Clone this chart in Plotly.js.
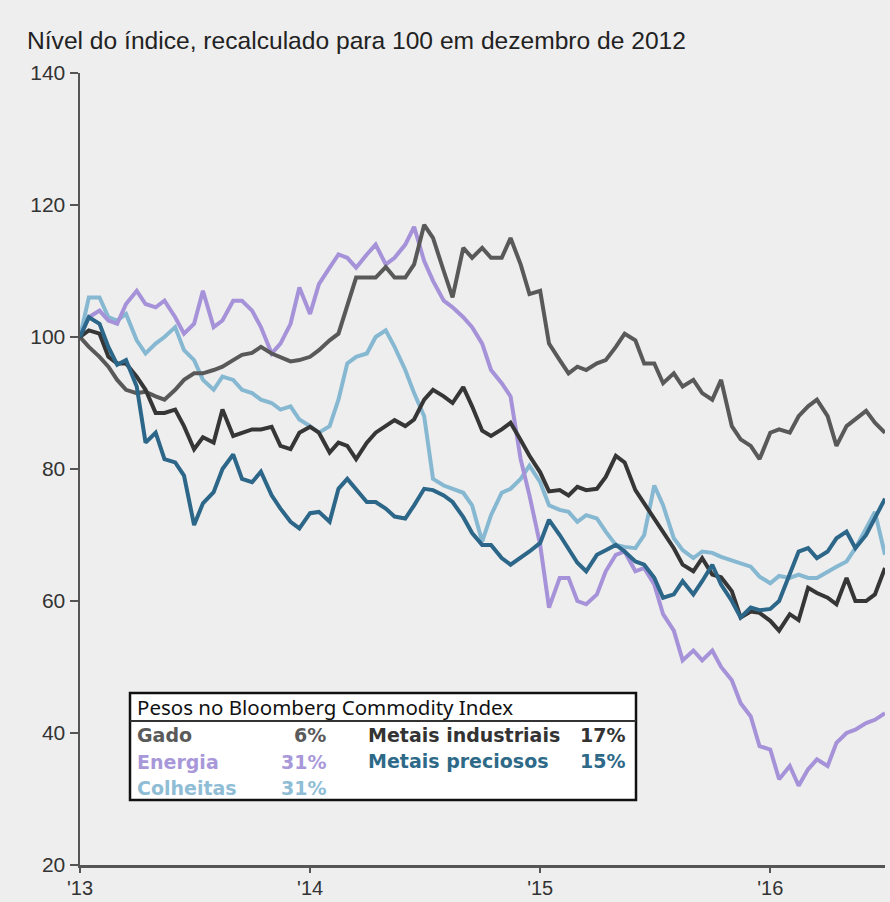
<!DOCTYPE html>
<html>
<head>
<meta charset="utf-8">
<script src="https://cdn.plot.ly/plotly-3.0.1.min.js"></script>
<style>html,body{margin:0;padding:0;background:#eeeeee;}#chart{width:890px;height:902px;}</style>
</head>
<body>
<div id="chart"></div>
<script>
// Half-monthly observation dates
const dates = [
'2013-01-01','2013-01-15','2013-02-01','2013-02-15','2013-03-01','2013-03-15','2013-04-01','2013-04-15','2013-05-01','2013-05-15','2013-06-01','2013-06-15',
'2013-07-01','2013-07-15','2013-08-01','2013-08-15','2013-09-01','2013-09-15','2013-10-01','2013-10-15','2013-11-01','2013-11-15','2013-12-01','2013-12-15',
'2014-01-01','2014-01-15','2014-02-01','2014-02-15','2014-03-01','2014-03-15','2014-04-01','2014-04-15','2014-05-01','2014-05-15','2014-06-01','2014-06-15',
'2014-07-01','2014-07-15','2014-08-01','2014-08-15','2014-09-01','2014-09-15','2014-10-01','2014-10-15','2014-11-01','2014-11-15','2014-12-01','2014-12-15',
'2015-01-01','2015-01-15','2015-02-01','2015-02-15','2015-03-01','2015-03-15','2015-04-01','2015-04-15','2015-05-01','2015-05-15','2015-06-01','2015-06-15',
'2015-07-01','2015-07-15','2015-08-01','2015-08-15','2015-09-01','2015-09-15','2015-10-01','2015-10-15','2015-11-01','2015-11-15','2015-12-01','2015-12-15',
'2016-01-01','2016-01-15','2016-02-01','2016-02-15','2016-03-01','2016-03-15','2016-04-01','2016-04-15','2016-05-01','2016-05-15','2016-06-01','2016-06-15',
'2016-07-01'
];

const gado = [100,98.5,97,95.5,93.5,92,91.5,91.7,91,90.5,
92,93.5,94.5,94.5,95,95.5,96.5,97.3,97.6,98.5,
97.5,97,96.3,96.5,97,98,99.5,100.5,105,109,
109,109,110.6,109,109,111,117,115,110,106,
113.5,112,113.5,112,112,115,111,106.5,107,99,
96.5,94.5,95.5,95,96,96.5,98.5,100.5,99.5,96,
96,93,94.5,92.5,93.5,91.5,90.5,93.5,86.5,84.5,
83.5,81.5,85.5,86,85.5,88,89.5,90.5,88,83.5,
86.5,87.5,88.8,87,85.5];

const energia = [100,103,104,102.5,102,105,107,105,104.5,105.5,
103,100.5,102,107,101.5,102.5,105.5,105.5,104,101.5,
97.5,99,102,107.5,103.5,108,110.5,112.5,112,110.5,
112.5,114,111,112,114,116.7,111.5,108.5,105.5,104.5,
103,101.5,99,95,93,91,81.5,76,68.5,59,
63.5,63.5,60,59.5,61,64.5,67,67.5,64.5,65,
62.5,58,55.5,51,52.5,51,52.5,50,48,44.5,
42.5,38,37.5,33,35,32,34.5,36,35,38.5,
40,40.5,41.5,42,43];

const colheitas = [100,106,106,103,102.5,103.5,99.5,97.5,99,100,
101.5,98,96.5,93.5,92,94,93.5,92,91.5,90.5,
90,89,89.5,87.5,86.5,85.5,86.5,90.5,96,97,
97.5,100,101,98.5,95,91.5,88,78.5,77.5,77,
76.4,74.5,69,73,76.4,77,78.5,80.5,78,74.5,
73.8,73.5,72,73,72.5,70.5,68.5,68.2,68,70,
77.5,74.5,69.5,67.7,66.5,67.5,67.3,66.7,66.2,65.8,
65.2,63.7,62.7,63.8,63.5,64,63.5,63.5,64.5,65.2,
66,68,71,73.5,67];

const metaisIndustriais = [100,101,100.5,97,96,96,94,92,88.5,88.5,
89,86.5,83,84.8,84,89,85,85.5,86,86,
86.4,83.5,83,85.5,86.4,85.5,82.5,84,83.5,81.5,
84,85.5,86.5,87.4,86.5,87.5,90.5,92,91,90,
92.4,89.5,85.8,85,86,87,84.4,82,79.5,76.6,
76.8,76,77.3,76.8,77,78.8,82,81,76.8,74.8,
72.5,70.5,68,65.5,64.5,66.5,64,63.6,61.5,57.5,
58.4,58.2,57,55.5,58,57.1,62,61.2,60.5,59.5,
63.5,60,60,61,65];

const metaisPreciosos = [100,103,102,98.5,95.8,96.5,92.5,84,85.5,81.5,
81,79,71.5,74.8,76.5,80,82.2,78.5,78,79.6,
76,74,72,71,73.3,73.5,72,77,78.5,77,
75,75,74,72.8,72.5,74.5,77,76.8,76,75,
72.7,70.3,68.5,68.5,66.5,65.5,66.5,67.5,68.8,72.3,
70,68,65.8,64.5,67,67.7,68.5,67.5,66,65.5,
63.5,60.5,61,63,61,63,65.5,62.5,60,57.5,
59,58.6,58.8,60,64,67.5,68,66.5,67.5,69.5,
70.5,68,70,72.5,75.5];

const xTickVals = ['2013-01-01','2014-01-01','2015-01-01','2016-01-01'];
const xTickText = ["'13","'14","'15","'16"];
const yTickVals = [20,40,60,80,100,120,140];

const legendTitle = 'Pesos no Bloomberg Commodity Index';
const legendNames = ['Gado','Energia','Colheitas','Metais industriais','Metais preciosos'];
const legendWeights = ['6%','31%','31%','17%','15%'];

const colors = {
  gado:'#595959', energia:'#a592d8', colheitas:'#86b8d2', ind:'#363636', prec:'#2c6688'
};
const textColors = ['#5a5a5a','#a898da','#8fbdd5','#333333','#2e6a88'];

function tr(y, c, name){
  return {x: dates, y: y, type:'scatter', mode:'lines', name: name,
    line:{color:c, width:4}, hoverinfo:'skip'};
}
const traces = [
  tr(colheitas, colors.colheitas, 'Colheitas'),
  tr(energia, colors.energia, 'Energia'),
  tr(gado, colors.gado, 'Gado'),
  tr(metaisIndustriais, colors.ind, 'Metais industriais'),
  tr(metaisPreciosos, colors.prec, 'Metais preciosos')
];

// pixel helpers for the legend box (plot area: left 80, width 805, top 73, height 792)
const L=80, W=805, T=73, H=792;
const px = v => (v-L)/W;
const py = v => (T+H-v)/H;

const rowFont = {family:'DejaVu Sans', size:19, weight:700};
function ann(text, x, y, anchor, color, font){
  return {xref:'paper', yref:'paper', x:px(x), y:py(y), xanchor:anchor, yanchor:'middle',
    text:text, showarrow:false, font:Object.assign({}, font, {color:color}), borderpad:0};
}

const annotations = [
  ann(legendTitle, 136, 707, 'left', '#111', {family:'Noto Sans', size:20.5}),
  ann(legendNames[0], 136, 735, 'left', textColors[0], rowFont),
  ann(legendWeights[0], 327, 735, 'right', textColors[0], rowFont),
  ann(legendNames[1], 136, 762, 'left', textColors[1], rowFont),
  ann(legendWeights[1], 327, 762, 'right', textColors[1], rowFont),
  ann(legendNames[2], 136, 788, 'left', textColors[2], rowFont),
  ann(legendWeights[2], 327, 788, 'right', textColors[2], rowFont),
  ann(legendNames[3], 367, 735, 'left', textColors[3], rowFont),
  ann(legendWeights[3], 626, 735, 'right', textColors[3], rowFont),
  ann(legendNames[4], 367, 761, 'left', textColors[4], rowFont),
  ann(legendWeights[4], 626, 761, 'right', textColors[4], rowFont)
];

const shapes = [
  {type:'rect', xref:'paper', yref:'paper', x0:px(130), x1:px(636), y0:py(800), y1:py(693),
   fillcolor:'#ffffff', line:{color:'#111', width:2.5}, layer:'above'},
  {type:'line', xref:'paper', yref:'paper', x0:px(130), x1:px(636), y0:py(721), y1:py(721),
   line:{color:'#333', width:2}, layer:'above'}
];

const axisFont = {family:'Liberation Sans', size:21, color:'#333'};
const layout = {
  width:890, height:902,
  margin:{l:L, r:5, t:T, b:37, pad:0},
  paper_bgcolor:'#eeeeee', plot_bgcolor:'#eeeeee',
  showlegend:false,
  title:{text:'Nível do índice, recalculado para 100 em dezembro de 2012',
    x:27/890, xanchor:'left', xref:'container', y:1-40/902, yanchor:'middle', yref:'container',
    font:{family:'Liberation Sans', size:24.6, color:'#222'}},
  xaxis:{type:'date', range:['2013-01-01','2016-07-01'], tickvals:xTickVals, ticktext:xTickText,
    ticks:'outside', ticklen:5, tickwidth:2, tickcolor:'#555', showline:true, linecolor:'#555', linewidth:2.5,
    showgrid:false, zeroline:false, tickfont:{family:'Liberation Sans', size:20, color:'#333'},
    ticklabelstandoff:-2, fixedrange:true},
  yaxis:{range:[20,140], tickvals:yTickVals, ticks:'outside', ticklen:8, tickwidth:2, tickcolor:'#555',
    showline:true, linecolor:'#555', linewidth:2.5, showgrid:false, zeroline:false, tickfont:axisFont, fixedrange:true},
  shapes:shapes,
  annotations:annotations
};

Plotly.newPlot('chart', traces, layout, {displayModeBar:false, staticPlot:true});
</script>
</body>
</html>
